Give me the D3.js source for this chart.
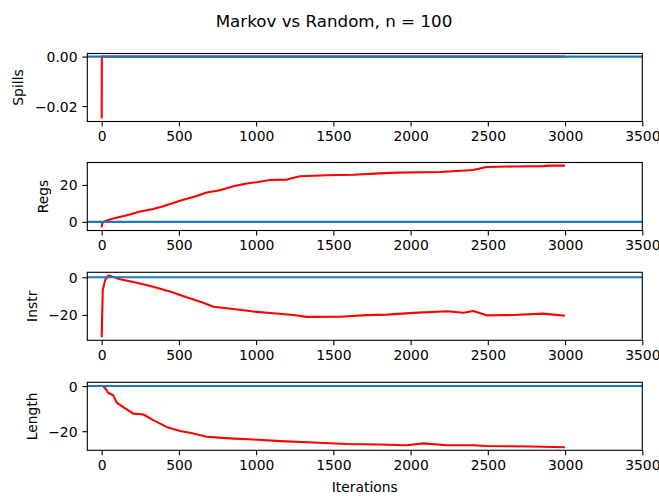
<!DOCTYPE html>
<html><head><meta charset="utf-8">
<script src="https://cdn.jsdelivr.net/npm/d3@7"></script>
<style>body{margin:0;background:#fff}svg{display:block}text{font-family:"DejaVu Sans",sans-serif;fill:#000}</style>
</head><body><svg id="c" width="659" height="496"></svg>
<script>
const titleText = "Markov vs Random, n = 100";
const xLabel = "Iterations";
const xTicks = [0, 500, 1000, 1500, 2000, 2500, 3000, 3500];
const xLimits = [-93, 3500];

const spillsX = [0, 1, 3000];
const spillsY = [-0.025, 0, 0];
const spillsTicks = [0, -0.02];

const regsX = [0, 5, 21, 75, 183, 248, 334, 399, 507, 615, 680, 766, 852, 939, 1003, 1090, 1198, 1284, 1457, 1629, 1802, 1910, 2190, 2406, 2492, 2665, 2859, 2902, 3000];
const regsY = [-3.0, -0.5, 0.4, 1.8, 4.0, 5.6, 7.0, 8.5, 11.4, 14.0, 15.9, 17.1, 19.3, 20.8, 21.5, 22.7, 22.9, 24.7, 25.3, 25.5, 26.3, 26.7, 27.0, 28.1, 29.7, 30.0, 30.2, 30.5, 30.5];
const regsTicks = [0, 20];

const instrX = [0, 7, 23, 45, 119, 227, 334, 442, 550, 658, 723, 852, 982, 1111, 1241, 1327, 1543, 1716, 1845, 2018, 2234, 2342, 2406, 2492, 2665, 2859, 3000];
const instrY = [-31.8, -6.7, -1.4, 1.0, -1.1, -2.9, -5.0, -7.6, -10.6, -13.5, -15.6, -16.8, -18.2, -19.1, -20.0, -21.0, -20.9, -20.1, -19.8, -18.9, -18.0, -18.8, -17.9, -20.2, -20.0, -19.3, -20.4];
const instrTicks = [0, -20];

const lengthX = [0, 21, 43, 75, 97, 140, 205, 270, 334, 420, 507, 572, 680, 831, 982, 1155, 1371, 1586, 1802, 1975, 2083, 2234, 2406, 2492, 2773, 3000];
const lengthY = [0.3, -0.7, -3.1, -4.1, -7.3, -9.3, -12.2, -12.6, -15.1, -18.1, -19.9, -20.7, -22.5, -23.2, -23.7, -24.4, -25.0, -25.7, -25.9, -26.2, -25.4, -26.2, -26.2, -26.6, -26.8, -27.1];
const lengthTicks = [0, -20];

const panels = [
  {name: "Spills", xs: spillsX, ys: spillsY, ticks: spillsTicks, fmt: d3.format(".2f")},
  {name: "Regs", xs: regsX, ys: regsY, ticks: regsTicks, fmt: d3.format("d")},
  {name: "Instr", xs: instrX, ys: instrY, ticks: instrTicks, fmt: d3.format("d")},
  {name: "Length", xs: lengthX, ys: lengthY, ticks: lengthTicks, fmt: d3.format("d")}
];

const svg = d3.select("#c");
const left = 87.3, right = 642.3;
const tops = [53.5, 162.5, 272.3, 382.3];
const ph = 68;
const fs = 13.9;
const x = d3.scaleLinear().domain(xLimits).range([left, right]);
const minus = s => s.replace("-", "\u2212");

svg.append("text").attr("x", 334).attr("y", 27).attr("text-anchor", "middle")
  .attr("font-size", 16.7).text(titleText);

panels.forEach((p, i) => {
  const top = tops[i], bot = top + ph;
  let lo = Math.min(0, d3.min(p.ys)), hi = Math.max(0, d3.max(p.ys));
  const m = (hi - lo) * 0.05;
  const y = d3.scaleLinear().domain([lo - m, hi + m]).range([bot, top]);
  const g = svg.append("g");
  const clipId = "clip" + i;
  svg.append("clipPath").attr("id", clipId).append("rect")
    .attr("x", left).attr("y", top).attr("width", right - left).attr("height", ph);
  const pts = p.xs.map((v, k) => [v, p.ys[k]]);
  g.append("path").datum(pts).attr("clip-path", `url(#${clipId})`)
    .attr("fill", "none").attr("stroke", "red").attr("stroke-width", 2.08)
    .attr("stroke-linejoin", "round")
    .attr("d", d3.line().x(d => x(d[0])).y(d => y(d[1])));
  g.append("line").attr("x1", left).attr("x2", right).attr("y1", y(0)).attr("y2", y(0))
    .attr("stroke", "#1f77b4").attr("stroke-width", 2.08);
  g.append("rect").attr("x", left).attr("y", top).attr("width", right - left).attr("height", ph)
    .attr("fill", "none").attr("stroke", "#000").attr("stroke-width", 1.1);
  const xa = g.append("g").attr("transform", `translate(0,${bot})`)
    .call(d3.axisBottom(x).tickValues(xTicks).tickSize(4.9).tickPadding(4.9).tickFormat(d3.format("d")));
  xa.select(".domain").remove();
  xa.selectAll("line").attr("stroke-width", 1.1);
  xa.selectAll("text").attr("font-size", fs).attr("font-family", "DejaVu Sans").attr("dy", "0.72em");
  const ya = g.append("g").attr("transform", `translate(${left},0)`)
    .call(d3.axisLeft(y).tickValues(p.ticks).tickSize(4.9).tickPadding(4.9).tickFormat(d => minus(p.fmt(d))));
  ya.select(".domain").remove();
  ya.selectAll("line").attr("stroke-width", 1.1);
  ya.selectAll("text").attr("font-size", fs).attr("font-family", "DejaVu Sans").attr("dy", "0.36em");
  let minX = Infinity;
  ya.selectAll("text").each(function(){ const b = this.getBBox(); minX = Math.min(minX, left + b.x); });
  svg.append("text").attr("transform", `translate(${minX - 11.5},${(top + bot) / 2}) rotate(-90)`)
    .attr("text-anchor", "middle").attr("font-size", fs).text(p.name);
});

svg.append("text").attr("x", (left + right) / 2).attr("y", 492).attr("text-anchor", "middle")
  .attr("font-size", fs).text(xLabel);
</script></body></html>
